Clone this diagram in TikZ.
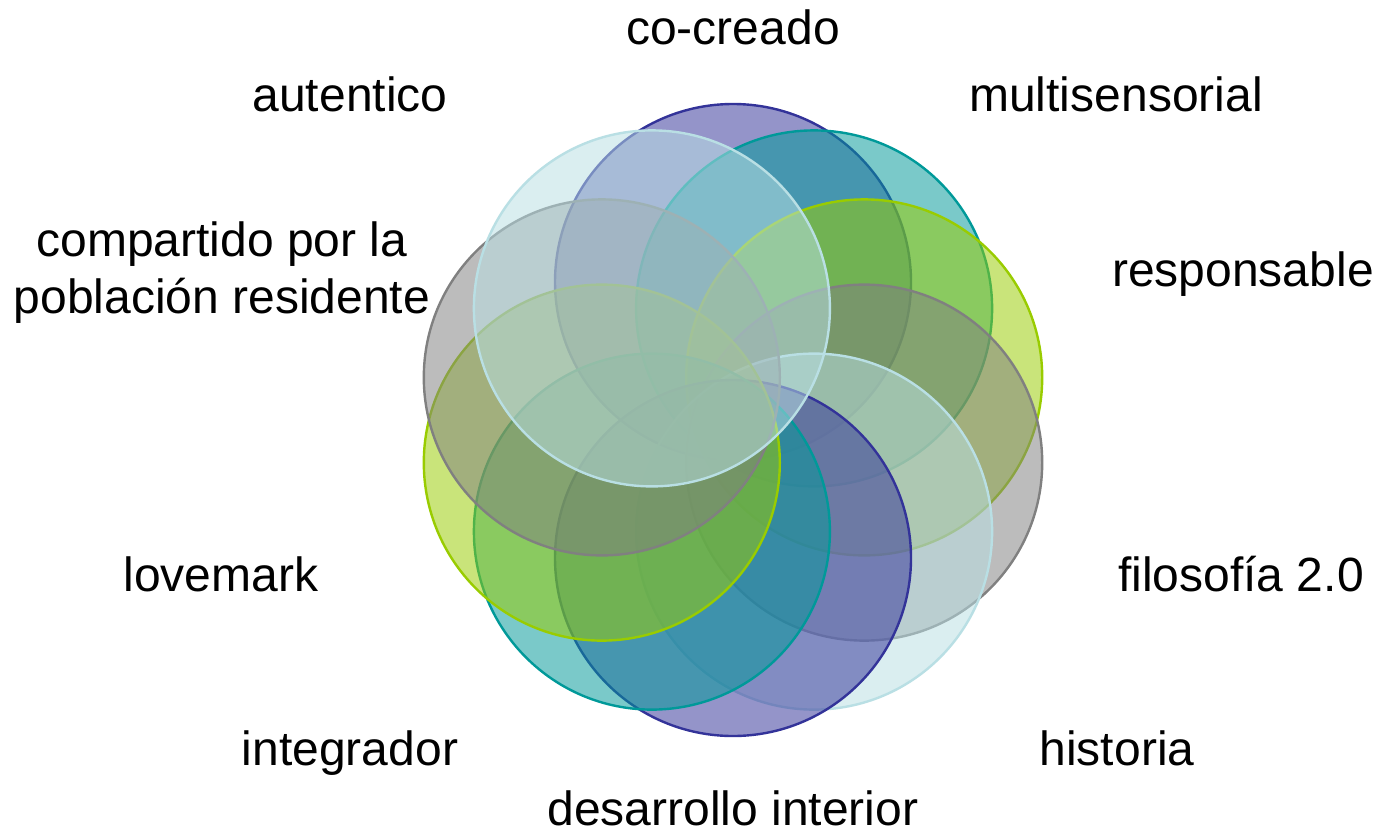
\documentclass[tikz,border=0pt]{standalone}
\usepackage{fontspec}
\setmainfont{Liberation Sans}
\definecolor{cdb}{HTML}{333399}
\definecolor{cte}{HTML}{009999}
\definecolor{cyg}{HTML}{99CC00}
\definecolor{cgr}{HTML}{808080}
\definecolor{clb}{HTML}{B9DFE4}
\tikzset{
  ring/.style={circle, minimum size=356pt, inner sep=0pt, line width=2.4pt, draw=#1, fill=#1, fill opacity=0.52, draw opacity=1},
  lbl/.style={anchor=base, font=\fontsize{48}{57}\selectfont, text=black, inner sep=0pt, align=center}
}
\begin{document}
\begin{tikzpicture}[x=1pt,y=-1pt]
\useasboundingbox (0,0) rectangle (1380,835);
\fill[white] (0,0) rectangle (1380,835);
% circles, drawn in order (clockwise from top)
\node[ring=cdb] (c1)  at (733,282) {};
\node[ring=cte] (c2)  at (814.1,308.4) {};
\node[ring=cyg] (c3)  at (864.2,377.4) {};
\node[ring=cgr] (c4)  at (864.2,462.6) {};
\node[ring=clb] (c5)  at (814.1,531.6) {};
\node[ring=cdb] (c6)  at (733,558) {};
\node[ring=cte] (c7)  at (651.9,531.6) {};
\node[ring=cyg] (c8)  at (601.8,462.6) {};
\node[ring=cgr] (c9)  at (601.8,377.4) {};
\node[ring=clb] (c10) at (651.9,308.4) {};
% labels
\node[lbl] (l1)  at (733,44)   {co-creado};
\node[lbl] (l2)  at (1116,111) {multisensorial};
\node[lbl] (l3)  at (1243,286) {responsable};
\node[lbl] (l4)  at (1241,591) {filosofía 2.0};
\node[lbl] (l5)  at (1117,765) {historia};
\node[lbl] (l6)  at (733,825)  {desarrollo interior};
\node[lbl] (l7)  at (350,765)  {integrador};
\node[lbl] (l8)  at (221,591)  {lovemark};
\node[lbl, anchor=north] (l9) at (222,222) {compartido por la\\población residente};
\node[lbl] (l10) at (350,111)  {autentico};
\end{tikzpicture}
\end{document}
